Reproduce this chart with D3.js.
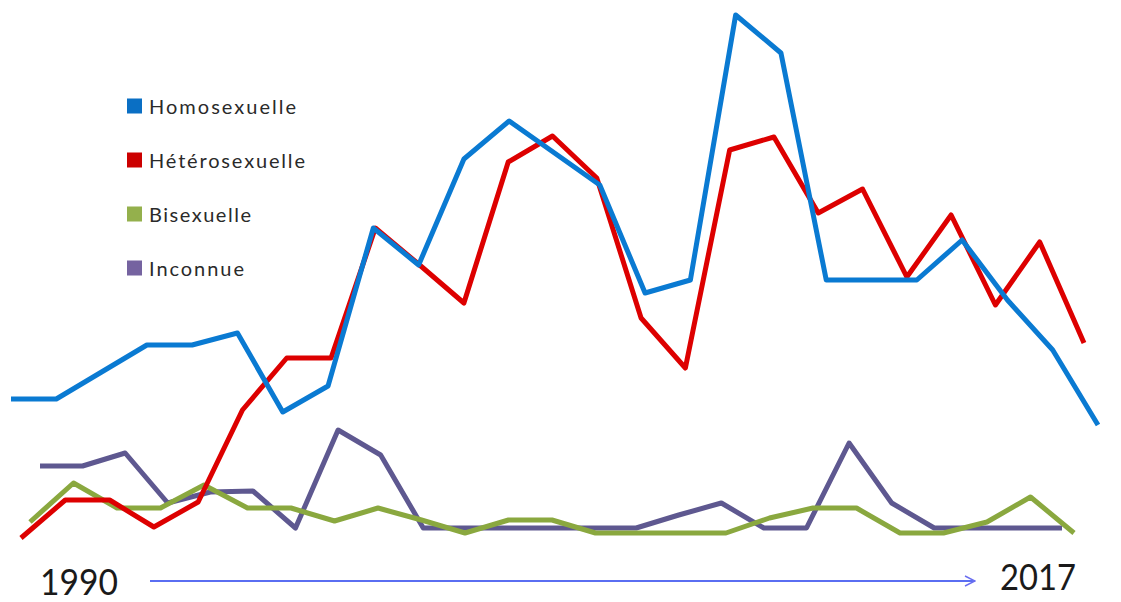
<!DOCTYPE html>
<html>
<head>
<meta charset="utf-8">
<script src="https://cdn.jsdelivr.net/npm/d3@7"></script>
<style>
  html, body { margin: 0; padding: 0; background: #fff; }
  svg { display: block; }
</style>
</head>
<body>
<svg width="1121" height="602"></svg>
<script>
const svg = d3.select('svg');

const width = +svg.attr('width');
const height = +svg.attr('height');

// series names, as in the legend
const seriesNames = ['Homosexuelle', 'Hétérosexuelle', 'Bisexuelle', 'Inconnue'];

// values (arbitrary units, 25 points from 1990 to 2017)
const homo = [29.2, 29.2, 34.6, 40, 40, 42.4, 26.6, 31.8, 63.4, 56, 77.2, 84.8, 78.4,
  72, 50.4, 53, 106, 98.4, 53, 53, 53, 61, 49, 39, 24];
const hetero = [1.4, 9, 9, 3.6, 8.6, 27, 37.4, 37.4, 63.4, 56, 48.4, 76.6, 81.8,
  73.4, 45.4, 35.4, 79, 81.6, 66.4, 71.2, 53.6, 66, 48, 60.6, 40.4];
const bi = [4.6, 12.4, 7.4, 7.4, 12, 7.4, 7.4, 4.8, 7.4, 5, 2.4, 5, 5,
  2.4, 2.4, 2.4, 2.4, 5.4, 7.4, 7.4, 2.4, 2.4, 4.6, 9.6, 2.4];
const inconnue = [15.8, 15.8, 18.4, 8.4, 10.6, 10.8, 3.4, 23, 18, 3.4, 3.4, 3.4, 3.4,
  3.4, 3.4, 6, 8.4, 3.4, 3.4, 20.4, 8.4, 3.4, 3.4, 3.4, 3.4];

const yearLabels = ['1990', '2017'];

const series = [
  { name: seriesNames[0], values: homo, color: '#0a7ad2', legend: '#0a6fc4', range: [11, 1098] },
  { name: seriesNames[1], values: hetero, color: '#dd0000', legend: '#cc0000', range: [21, 1084] },
  { name: seriesNames[2], values: bi, color: '#8aa83f', legend: '#94b04c', range: [30, 1074] },
  { name: seriesNames[3], values: inconnue, color: '#5e5890', legend: '#7563a0', range: [40, 1062] }
];

const render = () => {
  // each series sits at a slightly different depth, so each gets its own x range
  const yScale = d3.scaleLinear()
    .domain([0, 106])
    .range([545, 15]);

  const g = svg.append('g');

  // back to front: purple, green, red, blue
  series.slice().reverse().forEach(s => {
    const xScale = d3.scaleLinear()
      .domain([0, s.values.length - 1])
      .range(s.range);

    const line = d3.line()
      .x((d, i) => xScale(i))
      .y(d => yScale(d));

    g.append('path')
      .datum(s.values)
      .attr('fill', 'none')
      .attr('stroke', s.color)
      .attr('stroke-width', 5)
      .attr('stroke-linejoin', 'round')
      .attr('d', line);
  });

  // legend
  const legend = svg.append('g')
    .attr('transform', 'translate(127,0)');

  const legendY = d3.scalePoint()
    .domain(seriesNames)
    .range([106, 268]);

  const textLengths = [147, 156, 102, 95];

  const item = legend.selectAll('g.item').data(series)
    .enter().append('g')
      .attr('class', 'item')
      .attr('transform', d => `translate(0,${legendY(d.name)})`);

  item.append('rect')
    .attr('x', 0)
    .attr('y', -7.5)
    .attr('width', 15)
    .attr('height', 15)
    .attr('fill', d => d.legend);

  item.append('text')
    .attr('x', 22)
    .attr('y', 7.5)
    .attr('font-family', 'Lato, sans-serif')
    .attr('font-size', 20)
    .attr('fill', '#2a2a2a')
    .attr('textLength', (d, i) => textLengths[i])
    .attr('lengthAdjust', 'spacing')
    .text(d => d.name);

  // time arrow
  const defs = svg.append('defs');
  defs.append('marker')
    .attr('id', 'arrow')
    .attr('viewBox', '0 0 12 12')
    .attr('refX', 11)
    .attr('refY', 6)
    .attr('markerWidth', 12)
    .attr('markerHeight', 12)
    .attr('markerUnits', 'userSpaceOnUse')
    .attr('orient', 'auto')
    .append('path')
      .attr('d', 'M1,1 L11,6 L1,11')
      .attr('fill', 'none')
      .attr('stroke', '#6a6ef0')
      .attr('stroke-width', 1.4);

  svg.append('line')
    .attr('x1', 150)
    .attr('x2', 975)
    .attr('y1', 581)
    .attr('y2', 581)
    .attr('stroke', '#5a6ef2')
    .attr('stroke-width', 2)
    .attr('marker-end', 'url(#arrow)');

  svg.append('text')
    .attr('x', 40)
    .attr('y', 595)
    .attr('font-family', 'Lato, sans-serif')
    .attr('font-size', 36)
    .attr('fill', '#1a1a1a')
    .attr('textLength', 78)
    .attr('lengthAdjust', 'spacingAndGlyphs')
    .text(yearLabels[0]);

  svg.append('text')
    .attr('x', 1000)
    .attr('y', 590)
    .attr('font-family', 'Lato, sans-serif')
    .attr('font-size', 36)
    .attr('fill', '#1a1a1a')
    .attr('textLength', 76)
    .attr('lengthAdjust', 'spacingAndGlyphs')
    .text(yearLabels[1]);
};

render();
</script>
</body>
</html>
